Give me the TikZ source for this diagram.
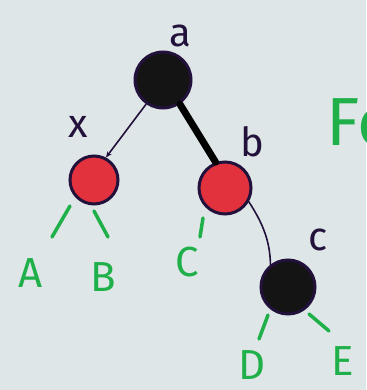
\documentclass[tikz,border=0pt]{standalone}
\usepackage{fontspec}
\setmainfont{Fira Sans}
\usetikzlibrary{arrows.meta}
\definecolor{paper}{HTML}{DFE6E8}
\definecolor{ink}{HTML}{22113A}
\definecolor{redfill}{HTML}{E2323E}
\definecolor{mark}{HTML}{1FB04A}
\begin{document}
\begin{tikzpicture}[x=1pt,y=-1pt,
  blacknode/.style={circle,draw=ink,line width=3pt,fill=black!92,minimum size=#1,inner sep=0pt},
  rednode/.style={circle,draw=ink,line width=3pt,fill=redfill,minimum size=#1,inner sep=0pt},
  lbl/.style={font=\fontsize{40}{40}\selectfont,text=ink,inner sep=0pt},
  glbl/.style={font=\fontsize{42}{42}\selectfont,text=mark,inner sep=0pt},
  stub/.style={draw=mark,line width=3.5pt,line cap=round},
  edge/.style={draw=ink,line width=1.6pt,line cap=round}]
\path[fill=paper] (0,0) rectangle (366,390);
\clip (0,0) rectangle (366,390);
% nodes
\node[blacknode=56pt] (a) at (163,80) {};
\node[rednode=48pt] (x) at (94,180) {};
\node[rednode=52pt] (b) at (225,188) {};
\node[blacknode=54pt] (c) at (288,287) {};
% labels
\node[lbl] (la) at (180,36) {a};
\node[lbl] (lx) at (78,127) {x};
\node[lbl] (lb) at (252,142) {b};
\node[lbl] (lc) at (318,240) {c};
% edges
\draw[edge,-{Stealth[length=6pt,width=5pt]}] (a.235) -- (x.62);
\draw[draw=black,line width=7pt,line cap=round] (a.-55) -- (b.110);
\draw[edge] (b.-30) .. controls (262,222) and (270,240) .. (c.128);
% green stubs
\coordinate (sA1) at (70,206); \coordinate (sA2) at (52,237);
\coordinate (sB1) at (94,211); \coordinate (sB2) at (108,237);
\coordinate (sC1) at (203,218); \coordinate (sC2) at (200,237);
\coordinate (sD1) at (268,315); \coordinate (sD2) at (259,339);
\coordinate (sE1) at (309,314); \coordinate (sE2) at (329,331);
\draw[stub] (sA1) -- (sA2);
\draw[stub] (sB1) -- (sB2);
\draw[stub] (sC1) -- (sC2);
\draw[stub] (sD1) -- (sD2);
\draw[stub] (sE1) -- (sE2);
% green letters
\node[glbl] (A) at (31,273) {A};
\node[glbl] (B) at (103,277) {B};
\node[glbl] (C) at (187,262) {C};
\node[glbl] (D) at (252,365) {D};
\node[glbl] (E) at (343,361) {E};
\node[font=\fontsize{68}{68}\selectfont,text=mark,inner sep=0pt,anchor=west] (Fo) at (326,122) {Fo};
\end{tikzpicture}
\end{document}
